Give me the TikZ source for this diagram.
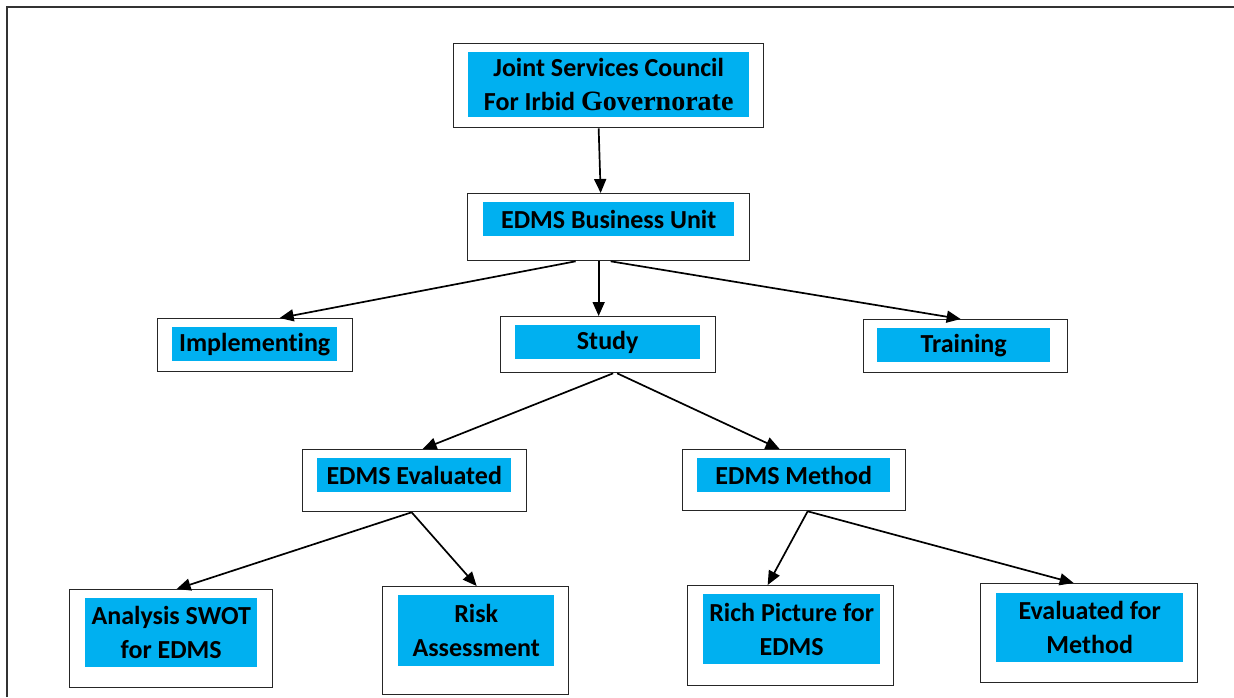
\documentclass[tikz,border=0pt]{standalone}
\usepackage{fontspec}
\setmainfont[Ligatures=NoCommon]{Carlito}
\newfontfamily\govfont{Liberation Serif}
\usetikzlibrary{arrows.meta}
\definecolor{boxcyan}{RGB}{0,176,240}

\begin{document}
\begin{tikzpicture}[x=1pt,y=-1pt,
        unitbox/.style={draw=black!85,line width=1.3pt,fill=white,inner sep=0pt,anchor=north west},
        unitlabel/.style={fill=boxcyan,inner sep=0pt,anchor=north west,align=center,
            font=\fontsize{26}{34}\selectfont\bfseries},
        link/.style={line width=1.7pt,-{Triangle[length=14pt,width=12pt]}}]
    \useasboundingbox (0,0) rectangle (1234,697);
    \draw [line width=2.5pt,black!80] (7,697) -- (7,7) -- (1234,7);
    \node [unitbox,minimum width=310pt,minimum height=84pt] (council) at (453,43) {};
    \node [unitlabel,minimum width=281pt,minimum height=65pt] (council-t) at (468,52)
        {Joint Services Council\\For Irbid {\govfont\fontsize{28}{34}\selectfont Governorate}};
    \node [unitbox,minimum width=282pt,minimum height=67pt] (unit) at (467,193) {};
    \node [unitlabel,minimum width=251pt,minimum height=34pt] (unit-t) at (483,202) {EDMS Business Unit};
    \node [unitbox,minimum width=195pt,minimum height=53pt] (impl) at (157,318) {};
    \node [unitlabel,minimum width=165pt,minimum height=34pt] (impl-t) at (172,327) {Implementing};
    \node [unitbox,minimum width=215pt,minimum height=56pt] (study) at (500,316) {};
    \node [unitlabel,minimum width=185pt,minimum height=34pt] (study-t) at (515,325) {Study};
    \node [unitbox,minimum width=204pt,minimum height=53pt] (train) at (863,319) {};
    \node [unitlabel,minimum width=173pt,minimum height=34pt] (train-t) at (877,328) {Training};
    \node [unitbox,minimum width=224pt,minimum height=62pt] (evald) at (302,449) {};
    \node [unitlabel,minimum width=194pt,minimum height=34pt] (evald-t) at (317,458) {EDMS Evaluated};
    \node [unitbox,minimum width=223pt,minimum height=61pt] (method) at (682,449) {};
    \node [unitlabel,minimum width=193pt,minimum height=34pt] (method-t) at (697,458) {EDMS Method};
    \node [unitbox,minimum width=203pt,minimum height=98pt] (swot) at (69,589) {};
    \node [unitlabel,minimum width=172pt,minimum height=69pt] (swot-t) at (85,598) {Analysis SWOT\\for EDMS};
    \node [unitbox,minimum width=186pt,minimum height=108pt] (risk) at (382,586) {};
    \node [unitlabel,minimum width=156pt,minimum height=71pt] (risk-t) at (398,595) {Risk\\Assessment};
    \node [unitbox,minimum width=206pt,minimum height=100pt] (rich) at (687,585) {};
    \node [unitlabel,minimum width=177pt,minimum height=70pt] (rich-t) at (703,594) {Rich Picture for\\EDMS};
    \node [unitbox,minimum width=217pt,minimum height=99pt] (evmeth) at (980,583) {};
    \node [unitlabel,minimum width=187pt,minimum height=69pt] (evmeth-t) at (996,593) {Evaluated for\\Method};
    \draw [link] ([xshift=-10pt]council.south) -- ([xshift=-8pt]unit.north);
    \draw [link] ([xshift=-33pt]unit.south) -- ([xshift=24.5pt]impl.north);
    \draw [link] ([xshift=-10pt]unit.south) -- ([xshift=-9.5pt]study.north);
    \draw [link] ([xshift=2pt]unit.south) -- ([xshift=-5pt]train.north);
    \draw [link] ([xshift=5pt]study.south) -- ([xshift=8pt]evald.north);
    \draw [link] ([xshift=9pt]study.south) -- ([xshift=-14.5pt]method.north);
    \draw [link] ([xshift=-3pt]evald.south) -- ([xshift=5.5pt]swot.north);
    \draw [link] ([xshift=-3pt]evald.south) -- ([xshift=1pt]risk.north);
    \draw [link] ([xshift=13.5pt]method.south) -- ([xshift=-23pt]rich.north);
    \draw [link] ([xshift=13.5pt]method.south) -- ([xshift=-15.5pt]evmeth.north);
\end{tikzpicture}
\end{document}
